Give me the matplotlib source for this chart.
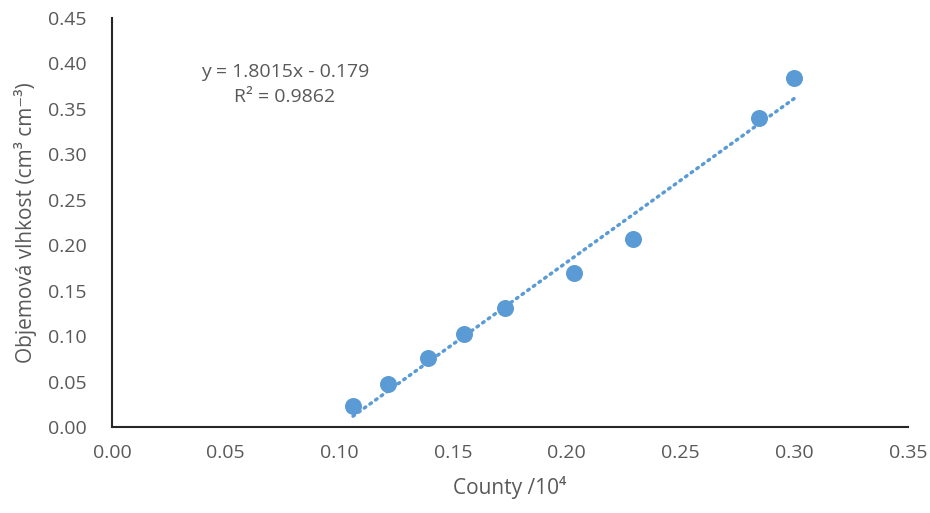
import numpy as np
import matplotlib.pyplot as plt

plt.rcParams['font.family'] = ['Open Sans', 'DejaVu Sans']

# measured points
county = [0.106, 0.1215, 0.139, 0.155, 0.173, 0.203, 0.229, 0.2845, 0.300]
vlhkost = [0.023, 0.047, 0.076, 0.102, 0.131, 0.169, 0.207, 0.340, 0.384]
slope = 1.8015
intercept = -0.179
xticks = [0.00, 0.05, 0.10, 0.15, 0.20, 0.25, 0.30, 0.35]
yticks = [0.00, 0.05, 0.10, 0.15, 0.20, 0.25, 0.30, 0.35, 0.40, 0.45]

blue = '#5b9bd5'
grey = '#595959'

fig = plt.figure(figsize=(9.3, 5.13), dpi=100)
ax = fig.add_axes([0.1204, 0.1676, 0.8559, 0.7973])

ax.scatter(county, vlhkost, s=150, color=blue, zorder=3, linewidths=0)

# linear trendline over data range
xl = np.array([min(county), max(county)])
ax.plot(xl, slope * xl + intercept, color=blue, lw=2.5, ls=(0, (0.5, 1.5)),
        dash_capstyle='round', zorder=2)

ax.text(0.076, 0.377, 'y = 1.8015x - 0.179\nR² = 0.9862', ha='center', va='center',
        fontsize=14, color=grey, linespacing=1.55)

ax.set_xlim(0, 0.35)
ax.set_ylim(0, 0.45)
ax.set_xticks(xticks)
ax.set_yticks(yticks)
ax.set_xticklabels(['%.2f' % v for v in xticks])
ax.set_yticklabels(['%.2f' % v for v in yticks])
ax.tick_params(length=0, labelsize=14, labelcolor=grey)
ax.tick_params(axis='y', pad=18)
ax.tick_params(axis='x', pad=12)
for s in ['top', 'right']:
    ax.spines[s].set_visible(False)
for s in ['left', 'bottom']:
    ax.spines[s].set_color('#262626')
    ax.spines[s].set_linewidth(1.5)

ax.set_xlabel('County /10⁴', fontsize=15, color=grey, labelpad=10)
ax.set_ylabel('Objemová vlhkost (cm³ cm⁻³)', fontsize=15, color=grey, labelpad=8)

fig.savefig('out.png', dpi=100)
